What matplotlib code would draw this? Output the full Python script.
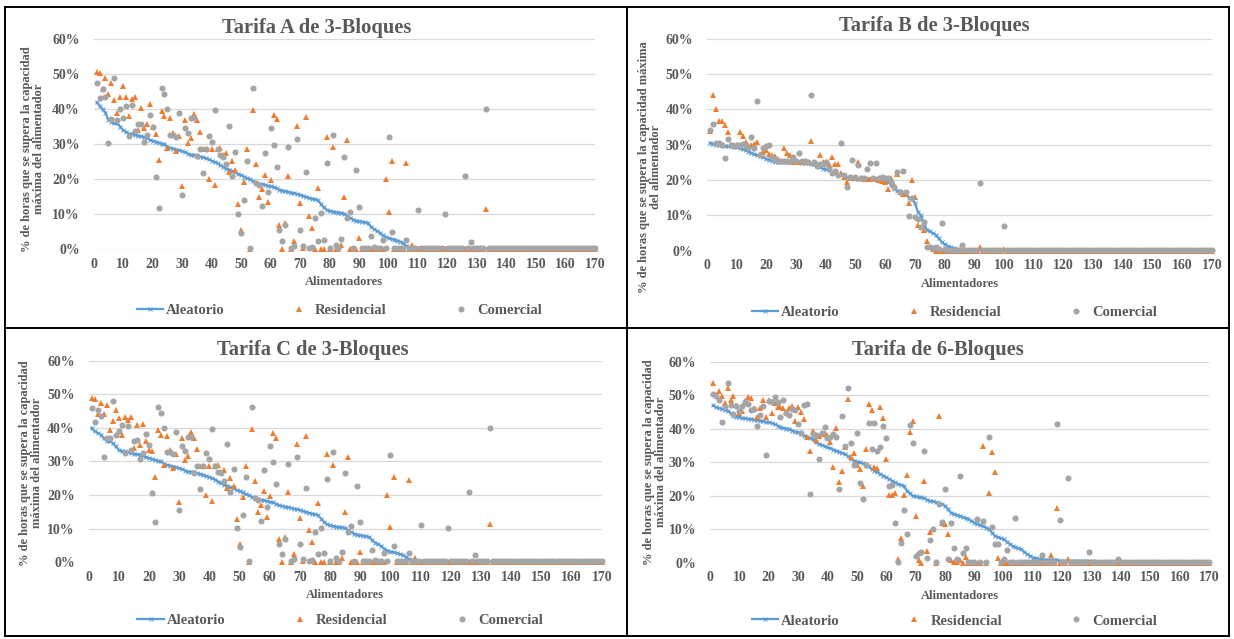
import matplotlib
matplotlib.use('Agg')
import matplotlib.pyplot as plt
from matplotlib.lines import Line2D
import numpy as np

# feeder index (1..170) shared by every panel
x = np.arange(1, 171)

# ---------------- Tarifa A de 3-Bloques ----------------
a_alea = [42.0, 41.0, 40.0, 39.0, 37.0, 36.5, 36.0, 36.0, 35.0, 34.0,
          33.5, 33.0, 33.0, 32.8, 32.5, 32.3, 32.0, 31.8, 31.3, 31.0,
          30.8, 30.5, 30.2, 30.0, 29.3, 29.0, 28.8, 28.5, 28.3, 28.0,
          27.8, 27.3, 27.0, 27.0, 26.8, 26.5, 26.3, 26.0, 25.7, 25.3,
          25.0, 24.6, 24.0, 23.5, 23.0, 22.8, 22.3, 22.0, 21.5, 21.2,
          20.8, 20.3, 20.0, 19.5, 19.0, 18.8, 18.6, 18.5, 18.2, 18.0,
          17.8, 17.4, 17.0, 16.8, 16.6, 16.4, 16.2, 16.0, 15.8, 15.6,
          15.3, 15.0, 14.7, 14.5, 14.3, 14.0, 13.0, 12.0, 11.3, 11.0,
          10.8, 10.6, 10.5, 10.4, 10.2, 9.5, 9.0, 8.5, 8.2, 8.0,
          7.9, 7.7, 7.5, 6.5, 5.8, 5.3, 4.8, 4.0, 3.5, 3.2,
          3.0, 2.8, 2.5, 2.2, 1.7, 1.0, 0.6, 0.5, 0.5, 0.5] + [0.4] * 20 + [0.2] * 40

a_res = [50.8, 50.5, 45.8, 49.0, 44.4, 47.6, 42.7, 39.0, 43.6, 46.7,
         43.6, 38.2, 43.0, 43.6, 34.0, 40.3, 34.8, 35.8, 41.5, 35.0,
         33.0, 25.4, 39.4, 38.0, 29.0, 37.5, 33.3, 28.2, 32.3, 18.0,
         37.0, 30.5, 31.7, 38.8, 37.0, 33.6, 28.8, 28.8, 20.0, 28.8,
         18.3, 28.6, 29.0, 27.0, 27.5, 22.2, 25.2, 22.8, 13.0, 5.5,
         19.3, 28.6, 0.0, 39.8, 24.3, 15.0, 17.1, 21.2, 13.6, 19.8,
         38.4, 37.1, 7.0, 0.0, 7.4, 21.0, 0.0, 2.5, 35.2, 13.3,
         0.3, 37.7, 9.5, 6.0, 0.0, 17.6, 0.0, 0.0, 32.2, 0.0,
         29.1, 0.0, 0.0, 1.2, 14.9, 31.2, 0.0, 0.0, 0.0, 3.1,
         0.0, 0.0, 0.0, 0.0, 0.0, 0.0, 0.0, 0.0, 20.0, 10.6,
         25.3, 0.0, 0.0, 0.0, 0.0, 24.6, 0.0, 1.2, 0.0, 0.0] + [0.0] * 22 + [11.4] + [0.0] * 37

a_com = [47.6, 43.3, 45.8, 43.6, 30.5, 37.1, 48.9, 37.0, 40.0, 37.4,
         41.0, 32.4, 41.3, 33.9, 35.8, 35.7, 30.8, 32.7, 38.4, 34.9,
         20.6, 11.9, 46.2, 44.4, 40.0, 32.7, 32.7, 32.2, 38.9, 15.5,
         34.6, 33.1, 37.4, 37.4, 26.7, 28.6, 21.7, 28.6, 32.4, 30.8,
         39.8, 28.6, 27.0, 26.5, 24.3, 35.2, 21.0, 27.9, 10.1, 4.6,
         14.1, 25.3, 0.3, 46.2, 19.0, 18.4, 12.4, 27.4, 16.5, 34.6,
         29.8, 23.4, 5.5, 2.5, 7.0, 29.3, 0.3, 1.0, 31.4, 5.5,
         1.0, 22.2, 0.3, 0.8, 8.9, 2.5, 10.3, 2.7, 24.8, 0.3,
         32.7, 1.2, 0.3, 3.0, 26.5, 8.9, 10.8, 0.3, 22.7, 12.0,
         0.5, 0.3, 0.3, 3.8, 0.8, 0.3, 0.3, 2.7, 0.5, 32.0,
         5.0, 0.5, 0.3, 0.3, 0.3, 2.7, 0.3, 0.3, 0.3, 11.2] + \
        [0.3] * 8 + [10.1] + [0.3] * 6 + [21.0, 0.3, 2.2] + [0.3] * 4 + [40.0] + [0.3] * 37

# ---------------- Tarifa B de 3-Bloques ----------------
b_alea = [30.5, 30.3, 30.0, 30.0, 29.8, 29.7, 29.5, 29.5, 29.4, 29.3,
          29.0, 28.7, 28.4, 28.0, 27.7, 27.3, 27.0, 26.8, 26.4, 26.0,
          25.8, 25.5, 25.2, 25.0, 25.0, 25.0, 25.0, 25.0, 25.0, 25.0,
          25.0, 24.9, 24.8, 24.7, 24.6, 24.4, 24.0, 23.6, 23.2, 23.0,
          22.7, 22.3, 22.0, 21.7, 21.4, 21.0, 20.8, 20.6, 20.5, 20.4,
          20.3, 20.3, 20.3, 20.3, 20.3, 20.3, 20.3, 20.3, 20.2, 20.0,
          19.5, 18.5, 17.5, 17.0, 16.8, 16.5, 16.0, 15.0, 14.5, 13.5,
          11.0, 10.0, 7.5, 6.0, 5.5, 5.0, 4.5, 3.5, 2.5, 1.8,
          1.3, 1.0, 0.7, 0.5, 0.3, 0.3, 0.3, 0.3, 0.3, 0.3] + [0.2] * 80

b_res = [34.0, 44.2, 40.2, 36.8, 36.8, 35.6, 33.7, 30.0, 30.0, 30.0,
         33.7, 32.5, 30.8, 29.5, 29.9, 30.2, 30.8, 27.5, 28.0, 28.5,
         27.4, 27.0, 26.8, 26.0, 25.5, 29.0, 27.6, 27.0, 25.2, 25.0,
         25.0, 25.0, 25.0, 25.0, 31.1, 25.0, 24.5, 27.1, 25.0, 25.0,
         24.5, 26.6, 24.5, 24.5, 22.0, 21.0, 19.5, 20.5, 20.5, 20.5,
         25.0, 20.5, 20.3, 20.3, 20.3, 20.3, 20.2, 20.0, 19.7, 19.5,
         17.6, 20.7, 18.5, 21.7, 16.5, 16.0, 16.0, 13.4, 20.0, 15.3,
         7.3, 6.8, 5.8, 2.8, 1.0, 0.5, 0.0, 0.0, 0.0, 0.0,
         0.0, 0.0, 0.0, 0.0, 0.0, 0.0, 0.0, 0.0, 0.0, 0.0,
         0.0, 1.1, 0.0, 0.0, 0.0, 0.0, 0.0, 0.0, 0.0, 0.5] + [0.0] * 70

b_com = [34.2, 35.8, 30.4, 30.5, 30.0, 26.1, 31.5, 30.0, 29.5, 30.0,
         30.0, 30.3, 29.8, 29.0, 32.3, 29.0, 42.3, 27.0, 29.0, 29.7,
         30.0, 26.5, 26.0, 25.5, 25.3, 25.3, 25.5, 25.5, 26.5, 25.5,
         27.7, 25.5, 25.5, 25.0, 44.2, 25.0, 24.0, 24.5, 24.5, 25.0,
         23.5, 22.0, 22.5, 21.5, 30.4, 21.5, 18.1, 21.0, 25.8, 21.0,
         24.2, 20.5, 20.5, 23.1, 24.7, 20.5, 24.7, 20.5, 20.8, 20.5,
         20.5, 19.5, 18.0, 22.4, 16.5, 22.6, 16.5, 9.8, 15.0, 9.6,
         9.0, 6.6, 8.0, 1.1, 1.0, 0.8, 1.0, 0.5, 7.9, 0.5,
         0.3, 0.3, 0.3, 0.3, 0.3, 1.5, 0.3, 0.3, 0.3, 0.3,
         0.3, 19.2, 0.3, 0.3, 0.3, 0.3, 0.3, 0.3, 0.3, 7.0] + [0.3] * 70

# ---------------- Tarifa C de 3-Bloques ----------------
# beyond the first twenty feeders the points read the same as in Tarifa A
c_alea = [40.0, 39.0, 38.5, 38.0, 37.0, 36.0, 36.0, 35.5, 34.5, 33.5,
          33.0, 33.0, 32.8, 32.5, 32.3, 32.2, 32.0, 31.7, 31.3, 31.0] + a_alea[20:]
c_res = [48.8, 48.6, 44.0, 47.5, 44.0, 46.8, 39.4, 42.0, 45.3, 42.9,
         37.9, 43.2, 42.4, 43.2, 34.0, 41.0, 35.0, 41.2, 36.0, 33.5] + a_res[20:]
c_com = [45.9, 41.9, 45.3, 43.4, 31.2, 37.0, 37.0, 48.1, 37.8, 39.0,
         41.0, 32.5, 40.5, 33.5, 36.0, 36.5, 30.8, 32.5, 38.3, 35.0] + a_com[20:]

# ---------------- Tarifa de 6-Bloques ----------------
d_alea = [47.0, 46.5, 46.3, 46.0, 45.7, 45.5, 44.7, 44.0, 43.7, 43.5,
          43.3, 43.2, 43.0, 43.0, 42.8, 42.6, 42.5, 42.3, 42.1, 42.0,
          41.8, 41.4, 41.0, 40.5, 40.3, 40.1, 40.0, 39.5, 39.2, 39.0,
          38.5, 38.0, 37.7, 37.3, 37.0, 36.0, 35.5, 35.2, 34.8, 34.5,
          34.2, 33.8, 33.5, 33.2, 32.8, 32.5, 31.8, 31.0, 30.5, 30.2,
          30.0, 29.7, 29.5, 28.8, 28.0, 27.5, 27.0, 26.5, 26.0, 25.5,
          25.0, 24.5, 24.0, 23.5, 23.3, 23.0, 21.5, 20.8, 20.0, 19.8,
          19.6, 19.5, 19.2, 18.8, 18.5, 18.3, 18.0, 17.8, 17.5, 17.0,
          16.0, 15.0, 14.6, 14.3, 14.0, 13.6, 13.3, 13.0, 12.5, 12.0,
          11.7, 11.3, 11.0, 10.5, 10.0, 9.0, 8.0, 7.7, 7.3, 7.0,
          6.3, 5.6, 5.0, 4.6, 4.3, 4.0, 3.2, 2.5, 2.0, 1.5,
          1.3, 1.2, 1.0, 0.9, 0.9, 0.9, 0.9, 0.9, 0.5, 0.5] + [0.5] * 10 + [0.3] * 40

d_res = [53.8, 50.2, 51.2, 49.9, 47.7, 52.2, 48.7, 49.9, 47.1, 44.9,
         45.5, 48.4, 49.4, 49.2, 46.2, 43.5, 46.2, 48.5, 43.5, 48.5,
         44.9, 47.7, 46.5, 46.4, 46.2, 45.0, 46.2, 46.7, 42.5, 46.4,
         45.2, 43.0, 37.7, 33.4, 39.4, 36.7, 38.0, 38.5, 38.9, 38.2,
         36.0, 28.7, 40.2, 24.0, 27.5, 34.5, 48.9, 31.5, 32.9, 29.2,
         27.9, 22.9, 33.9, 47.5, 45.7, 28.7, 28.2, 46.5, 43.4, 31.0,
         20.2, 20.2, 20.9, 1.0, 7.3, 20.1, 26.1, 39.2, 42.5, 14.0,
         0.8, 0.0, 24.5, 3.5, 9.1, 10.0, 0.0, 43.9, 12.0, 11.6,
         8.5, 0.8, 0.3, 0.3, 0.8, 0.0, 1.8, 0.0, 0.0, 0.0,
         0.0, 0.0, 34.9, 0.0, 20.7, 33.2, 27.1, 1.4, 0.0, 0.0,
         0.0, 0.0, 0.0, 0.0, 0.0, 0.0, 0.0, 0.0, 0.0, 0.0,
         0.0, 0.0, 0.0, 0.0, 0.0, 2.3, 0.0, 16.3, 0.0, 0.0,
         0.0, 1.0, 0.0, 0.0, 0.0, 0.0, 0.0, 0.0, 0.0, 0.0] + [0.0] * 40

d_com = [50.5, 49.7, 48.7, 42.2, 46.5, 53.7, 47.0, 44.5, 46.9, 45.5,
         46.7, 47.9, 47.5, 45.7, 45.9, 40.9, 44.2, 46.7, 32.2, 48.4,
         47.9, 49.5, 48.0, 43.7, 48.5, 44.7, 44.2, 45.9, 45.7, 41.5,
         38.9, 47.2, 47.5, 20.5, 38.5, 38.2, 30.9, 38.7, 40.7, 37.2,
         37.7, 38.5, 37.5, 22.0, 43.9, 34.9, 52.3, 35.9, 29.2, 38.9,
         23.7, 19.0, 29.2, 41.9, 34.1, 41.9, 33.5, 34.7, 40.9, 37.2,
         23.0, 23.2, 11.8, 0.2, 5.8, 15.8, 8.6, 41.2, 35.9, 2.1,
         2.8, 3.3, 33.5, 1.3, 6.8, 10.0, 0.2, 17.4, 12.2, 21.9,
         1.0, 12.0, 4.3, 1.0, 25.9, 2.8, 4.5, 0.3, 0.3, 0.2,
         13.0, 0.2, 12.5, 0.3, 37.7, 10.6, 5.6, 5.6, 0.3, 1.0,
         3.8, 0.3, 0.3, 13.3, 0.3, 0.3, 0.3, 0.3, 0.3, 0.3,
         0.3, 0.3, 2.3, 0.3, 0.3, 0.3, 0.3, 41.5, 12.8, 0.3,
         0.3, 25.2, 0.3, 0.3, 0.3, 0.3, 0.3, 0.3, 3.1, 0.3,
         0.3, 0.3, 0.3, 0.3, 0.3, 0.3, 0.3, 0.3, 1.0, 0.3] + [0.3] * 30

BLUE = '#5B9BD5'
ORANGE = '#ED7D31'
GREY = '#A5A5A5'
TXT = '#595959'
W, H = 1234, 639

plt.rcParams['font.family'] = ['Liberation Serif', 'DejaVu Serif']
plt.rcParams['font.weight'] = 'bold'
plt.rcParams['axes.labelweight'] = 'bold'

fig = plt.figure(figsize=(W / 100, H / 100), dpi=100)


def fx(px):
    return px / W


def fy(py):
    return 1 - py / H


def panel(box, alea, res, com, title, title_xy, ylabel, ylabel_xy):
    # box = (left, top, right, bottom) of the plot area in pixels
    l, t, r, b = box
    ax = fig.add_axes([fx(l), fy(b), fx(r - l), (b - t) / H])
    ax.plot(x, alea, color=BLUE, lw=1.6, marker='x', ms=3, mew=0.7,
            label='Aleatorio', zorder=3)
    ax.plot(x, res, ls='none', marker='^', ms=4.8, color=ORANGE, mew=0,
            label='Residencial', clip_on=False, zorder=4)
    ax.plot(x, com, ls='none', marker='o', ms=4.4, color=GREY, mew=0,
            label='Comercial', clip_on=False, zorder=5)
    ax.set_xlim(0, 170)
    ax.set_ylim(0, 60)
    ax.set_xticks(range(0, 171, 10))
    ax.set_yticks(range(0, 61, 10))
    ax.set_yticklabels([f'{v}%' for v in range(0, 61, 10)])
    ax.grid(axis='y', color='#D9D9D9', lw=0.9)
    ax.set_axisbelow(True)
    for s in ax.spines.values():
        s.set_visible(False)
    ax.tick_params(length=0, labelsize=10, colors=TXT, pad=6)
    ax.tick_params(axis='y', pad=10)
    ax.set_xlabel('Alimentadores', fontsize=9, color=TXT, labelpad=4,
                  fontweight='bold')
    fig.text(fx(title_xy[0]), fy(title_xy[1]), title, ha='center', va='center',
             fontsize=14.8, color=TXT)
    fig.text(fx(ylabel_xy[0]), fy(ylabel_xy[1]), ylabel, ha='center', va='center',
             rotation=90, fontsize=9, color=TXT, multialignment='center',
             linespacing=1.0)
    leg = ax.legend(loc='center', bbox_to_anchor=(0.49, -0.29), ncol=3,
                    frameon=False, fontsize=10.5, columnspacing=4.2,
                    handlelength=1.8, handletextpad=0.2)
    for tx in leg.get_texts():
        tx.set_color(TXT)
    return ax


lab1 = '% de horas que se supera la capacidad\nmáxima del alimentador'
lab2 = '% de horas que se supera la capacidad máxima\ndel alimentador'

panel((93.7, 39.3, 595, 249.3), a_alea, a_res, a_com,
      'Tarifa A de 3-Bloques', (317, 28), lab1, (33, 149))
panel((706.9, 38.7, 1212, 250.7), b_alea, b_res, b_com,
      'Tarifa B de 3-Bloques', (934, 26), lab2, (650, 167))
panel((88.6, 360.7, 601.8, 562.3), c_alea, c_res, c_com,
      'Tarifa C de 3-Bloques', (313, 350), lab1, (31, 463))
panel((710, 362, 1209.3, 562.7), d_alea, d_res, d_com,
      'Tarifa de 6-Bloques', (938, 350), lab1, (655, 462))

# panel frames
frame = [((5, 7), (1229, 7)), ((5, 636), (1229, 636)), ((5, 7), (5, 636)),
         ((1229, 7), (1229, 636)), ((627, 7), (627, 636)), ((5, 328), (1229, 328))]
for (x0, y0), (x1, y1) in frame:
    fig.add_artist(Line2D([fx(x0), fx(x1)], [fy(y0), fy(y1)],
                          transform=fig.transFigure, color='black', lw=1.4))

fig.savefig('out.png', dpi=100, facecolor='white')
